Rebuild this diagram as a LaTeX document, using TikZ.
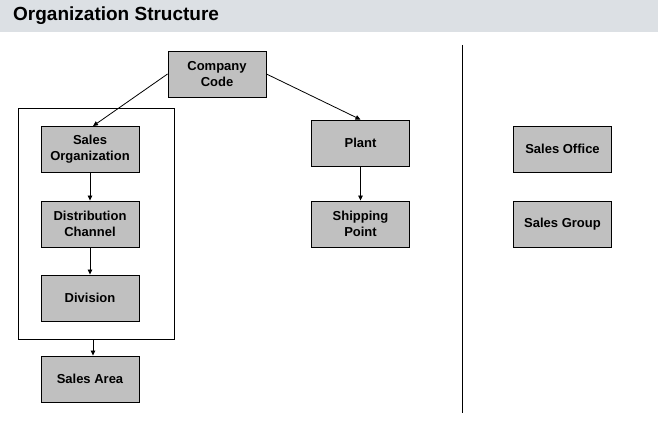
\documentclass[tikz,border=0pt]{standalone}
\usepackage{fontspec}
\setmainfont{Liberation Sans}
\usetikzlibrary{arrows.meta,calc}
\definecolor{boxgray}{HTML}{C0C0C0}
\definecolor{bargray}{HTML}{DCE0E4}
\begin{document}
\begin{tikzpicture}[x=1pt,y=1pt,
  orgbox/.style={draw=black,line width=0.9pt,fill=boxgray,minimum width=98pt,minimum height=46pt,
    inner sep=0pt,align=center,font=\bfseries\fontsize{13}{16}\selectfont},
  arr/.style={line width=0.8pt,-{Triangle[length=5pt,width=4.5pt]}}]
\useasboundingbox (0,0) rectangle (658,-420);
\fill[bargray] (0,0) rectangle (658,-32);
\node[anchor=west,inner sep=0pt,font=\bfseries\fontsize{19}{22}\selectfont] (title) at (13,-16) {Organization Structure};
% frame
\node[draw=black,line width=0.9pt,minimum width=156pt,minimum height=231pt,inner sep=0pt] (frame) at (96,-223.5) {};
\node[orgbox] (cc) at (217,-74) {Company\\Code};
\node[orgbox] (so) at (90,-149.5) {Sales\\Organization};
\node[orgbox] (dc) at (90,-224) {Distribution\\Channel};
\node[orgbox] (dv) at (90,-298) {Division};
\node[orgbox] (sa) at (90,-379) {Sales Area};
\node[orgbox] (pl) at (360.5,-143) {Plant};
\node[orgbox] (sp) at (360.5,-224) {Shipping\\Point};
\node[orgbox] (sof) at (562.5,-149) {Sales Office};
\node[orgbox] (sg) at (562.5,-224) {Sales Group};
\coordinate (sepTop) at (462,-45);
\coordinate (sepBot) at (462,-413);
\draw[line width=0.9pt] (sepTop) -- (sepBot);
\draw[arr] (cc.west) -- ($(so.north)+(3,0)$);
\draw[arr] (cc.east) -- (pl.north);
\draw[arr] (so.south) -- (dc.north);
\draw[arr] (dc.south) -- (dv.north);
\draw[arr] ($(frame.south)+(-3,0)$) -- ($(sa.north)+(3,0)$);
\draw[arr] (pl.south) -- (sp.north);
\end{tikzpicture}
\end{document}
